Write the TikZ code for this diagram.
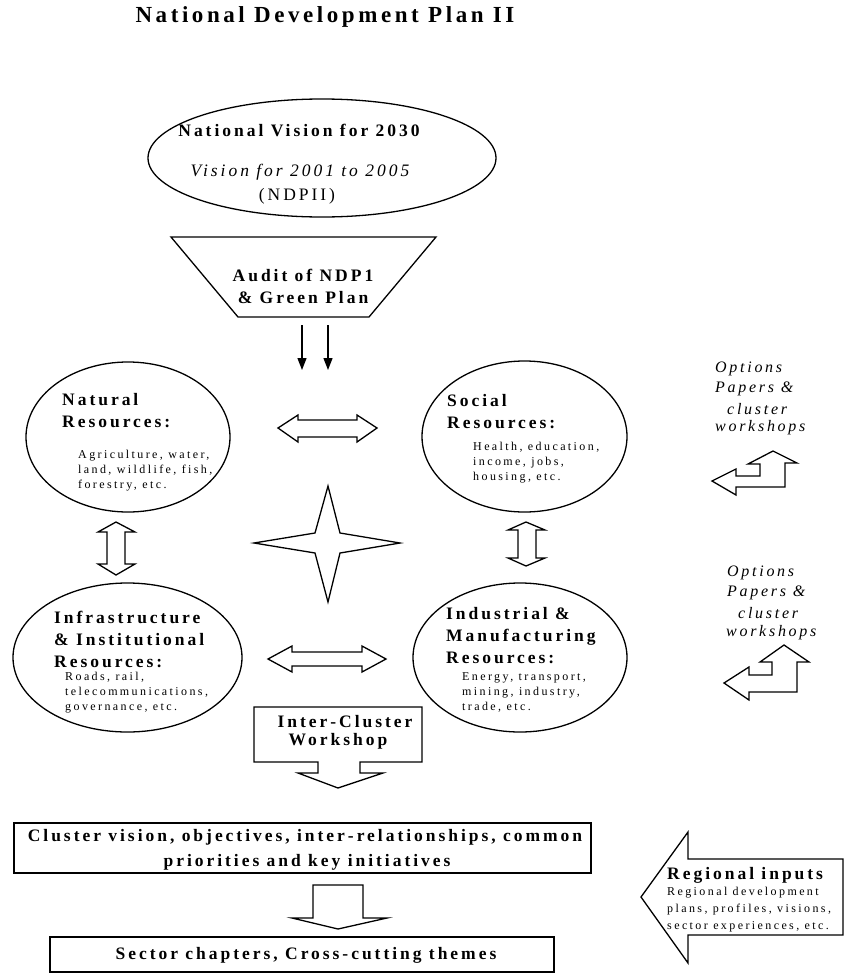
\documentclass[tikz,border=0pt]{standalone}
\usepackage{fontspec}
\setmainfont{Liberation Serif}
\newfontfamily\lsb[LetterSpace=17]{Liberation Serif}
\newfontfamily\lss[LetterSpace=20]{Liberation Serif}
\newfontfamily\lst[LetterSpace=15.5]{Liberation Serif}
\usetikzlibrary{shapes.geometric,arrows.meta}
\tikzset{
  bt/.style={inner sep=0pt, font=\lsb\bfseries\fontsize{17.5}{22}\selectfont},
  st/.style={inner sep=0pt, font=\lss\fontsize{12}{15}\selectfont, align=left, anchor=west},
  it/.style={inner sep=0pt, font=\lsb\itshape\fontsize{16}{20}\selectfont, anchor=west},
  shp/.style={draw, line width=1.3pt, line join=miter},
  ell/.style={ellipse, draw, line width=1.3pt, inner sep=0pt},
  darr/.style={line width=1.3pt, -{Triangle[width=9pt,length=12pt]}},
}
\begin{document}
\begin{tikzpicture}[x=1pt,y=-1pt]
\useasboundingbox (0,0) rectangle (844,977);
% title
\node[inner sep=0pt, font=\lst\bfseries\fontsize{23}{27}\selectfont] (title) at (325,17) {National Development Plan II};

% vision ellipse
\node[ell, minimum width=348pt, minimum height=118pt] (vis) at (322,158) {};
\node[bt] (vis1) at (299,130) {National Vision for 2030};
\node[inner sep=0pt, font=\lsb\itshape\fontsize{17.5}{22}\selectfont] (vis2) at (300,172) {Vision for 2001 to 2005};
\node[inner sep=0pt, font=\lsb\fontsize{17.5}{22}\selectfont] (vis3) at (297,196) {(NDPII)};

% audit trapezoid
\draw[shp] (171,237) -- (436,237) -- (369,317) -- (238,317) -- cycle;
\node[bt, align=center] (audit) at (303,286) {Audit of NDP1\\\& Green Plan};
\coordinate (a1s) at (302,325); \coordinate (a1e) at (302,370);
\coordinate (a2s) at (328,325); \coordinate (a2e) at (328,370);
\draw[darr] (a1s) -- (a1e);
\draw[darr] (a2s) -- (a2e);

% ellipses
\node[ell, minimum width=204pt, minimum height=150pt] (nat) at (128,437) {};
\node[ell, minimum width=205pt, minimum height=151pt] (soc) at (524.5,436.5) {};
\node[ell, minimum width=229pt, minimum height=149pt] (inf) at (127.5,657.5) {};
\node[ell, minimum width=214pt, minimum height=149pt] (ind) at (520,657.5) {};

\node[bt, align=left, anchor=west] (natt) at (62,411) {Natural\\Resources:};
\node[st] (nats) at (78,471) {Agriculture, water,\\land, wildlife, fish,\\forestry, etc.};
\node[bt, align=left, anchor=west] (soct) at (447,412) {Social\\Resources:};
\node[st] (socs) at (473,463) {Health, education,\\income, jobs,\\housing, etc.};
\node[bt, align=left, anchor=west] (inft) at (54,639.5) {Infrastructure\\\& Institutional\\Resources:};
\node[st] (infs) at (65,693) {Roads, rail,\\telecommunications,\\governance, etc.};
\node[bt, align=left, anchor=west] (indt) at (446,635.5) {Industrial \&\\Manufacturing\\Resources:};
\node[st] (inds) at (462,692) {Energy, transport,\\mining, industry,\\trade, etc.};

% block double arrows
\draw[shp] (278,428) -- (298,415) -- (298,420) -- (357,420) -- (357,415) -- (377,428) -- (357,442) -- (357,437) -- (298,437) -- (298,442) -- cycle;
\draw[shp] (268,659) -- (292,646) -- (292,652) -- (362,652) -- (362,646) -- (386,659) -- (362,672) -- (362,666) -- (292,666) -- (292,672) -- cycle;
\draw[shp] (116,522) -- (135,532) -- (125,532) -- (125,564) -- (135,564) -- (116,575) -- (98,564) -- (107,564) -- (107,532) -- (98,532) -- cycle;
\draw[shp] (526,522) -- (545,530) -- (536,530) -- (536,558) -- (545,558) -- (526,566) -- (508,558) -- (518,558) -- (518,530) -- (508,530) -- cycle;

% star
\draw[shp] (328,486) -- (340,533) -- (400,543) -- (340,553) -- (328,602) -- (315,553) -- (254,543) -- (315,533) -- cycle;

% options texts and bent arrows
\node[it] (o1a) at (715,369) {Options};
\node[it] (o1b) at (715,389) {Papers \&};
\node[it] (o1c) at (727,409) {cluster};
\node[it] (o1d) at (715,428) {workshops};
\draw[shp] (712,481) -- (736,469) -- (736,476) -- (760,476) -- (760,464) -- (748,464) -- (773,451) -- (797,463) -- (785,463) -- (785,487) -- (736,487) -- (736,495) -- cycle;

\node[it] (o2a) at (727,573) {Options};
\node[it] (o2b) at (727,593) {Papers \&};
\node[it] (o2c) at (738,613) {cluster};
\node[it] (o2d) at (726,633) {workshops};
\draw[shp] (724,683) -- (749,667) -- (749,675) -- (772,675) -- (772,662) -- (760,662) -- (784,645) -- (809,662) -- (797,662) -- (797,692) -- (749,692) -- (749,700) -- cycle;

% inter-cluster callout
\draw[shp] (254,707) -- (422,707) -- (422,762) -- (360,762) -- (360,773) -- (383,773) -- (338,788) -- (298,773) -- (318,773) -- (318,762) -- (254,762) -- cycle;
\node[bt] (ic1) at (345,722) {Inter\kern3pt-Cluster};
\node[bt] (ic2) at (338,741) {Workshop};

% cluster box
\draw[shp] (14,823) rectangle (591,873);
\node[bt] (cl1) at (305,837) {Cluster vision, objectives, inter\kern3pt-relationships, common};
\node[bt] (cl2) at (307,862) {priorities and key initiatives};

\draw[shp] (313,885) -- (363,885) -- (363,918) -- (387,918) -- (338,929) -- (292,918) -- (313,918) -- cycle;

% sector box
\draw[shp] (50,937) rectangle (554,972);
\node[bt] (sec) at (306,955) {Sector chapters, Cross-cutting themes};

% regional inputs arrow
\draw[shp] (641,897) -- (688,832) -- (688,859) -- (843,859) -- (843,935) -- (688,935) -- (688,963) -- cycle;
\node[bt, anchor=west] (reg) at (667,875) {Regional inputs};
\node[inner sep=0pt, font=\lss\fontsize{12}{17}\selectfont, align=left, anchor=west] (regs) at (667,910) {Regional development\\plans, profiles, visions,\\sector experiences, etc.};
\end{tikzpicture}
\end{document}
